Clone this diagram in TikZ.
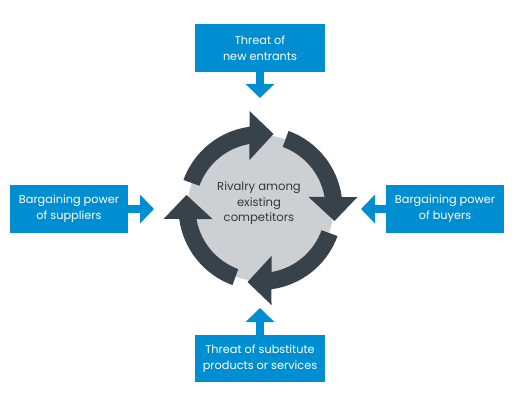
\documentclass[tikz,border=0pt]{standalone}
\usepackage{fontspec}
\setmainfont{Poppins}
\usetikzlibrary{arrows.meta}
\definecolor{forceblue}{RGB}{0,142,211}
\definecolor{ringdark}{RGB}{55,66,75}
\definecolor{ringgray}{RGB}{205,208,211}
\definecolor{rivaltext}{RGB}{50,56,62}

\begin{document}
\begin{tikzpicture}[x=1pt,y=1pt,
    force/.style={fill=forceblue,text=white,align=center,inner sep=0pt,
      minimum height=48pt,font=\fontsize{11.3}{16}\selectfont},
    push/.style={forceblue,line width=8pt,-{Triangle[length=14pt,width=28pt]}},
    ring/.style={fill=ringdark}]
  \useasboundingbox (0,0) rectangle (528,408);
  % rivalry circle
  \fill[ringgray] (260.5,200) circle[radius=73];
  \foreach \k in {0,...,3}
    \fill[ring,shift={(260.5,200)},rotate=-90*\k]
      (160:82) arc[start angle=160,end angle=97.7,radius=82]
      -- (-11,97) -- (13,74) -- (-11,48)
      -- (99.8:65) arc[start angle=99.8,end angle=160,radius=65] -- cycle;
  \node[text=rivaltext,align=center,font=\fontsize{11.6}{15.5}\selectfont]
    (rivalry) at (259,204.5) {Rivalry among\\existing\\competitors};
  % five forces
  \node[force,minimum width=130pt] (entrants) at (260,360) {Threat of\\new entrants};
  \node[force,minimum width=118pt] (suppliers) at (69,199) {Bargaining power\\of suppliers};
  \node[force,minimum width=118pt] (buyers) at (445,199) {Bargaining power\\of buyers};
  \node[force,minimum width=130pt,minimum height=47pt] (substitutes) at (260,49.5)
    {Threat of substitute\\products or services};
  \coordinate (entrantsTip) at (260,310);
  \coordinate (suppliersTip) at (154,199);
  \coordinate (buyersTip) at (361,199);
  \coordinate (substitutesTip) at (260,100);
  \draw[push] (entrants.south) -- (entrantsTip);
  \draw[push] (suppliers.east) -- (suppliersTip);
  \draw[push] (buyers.west) -- (buyersTip);
  \draw[push] (substitutes.north) -- (substitutesTip);
\end{tikzpicture}
\end{document}
